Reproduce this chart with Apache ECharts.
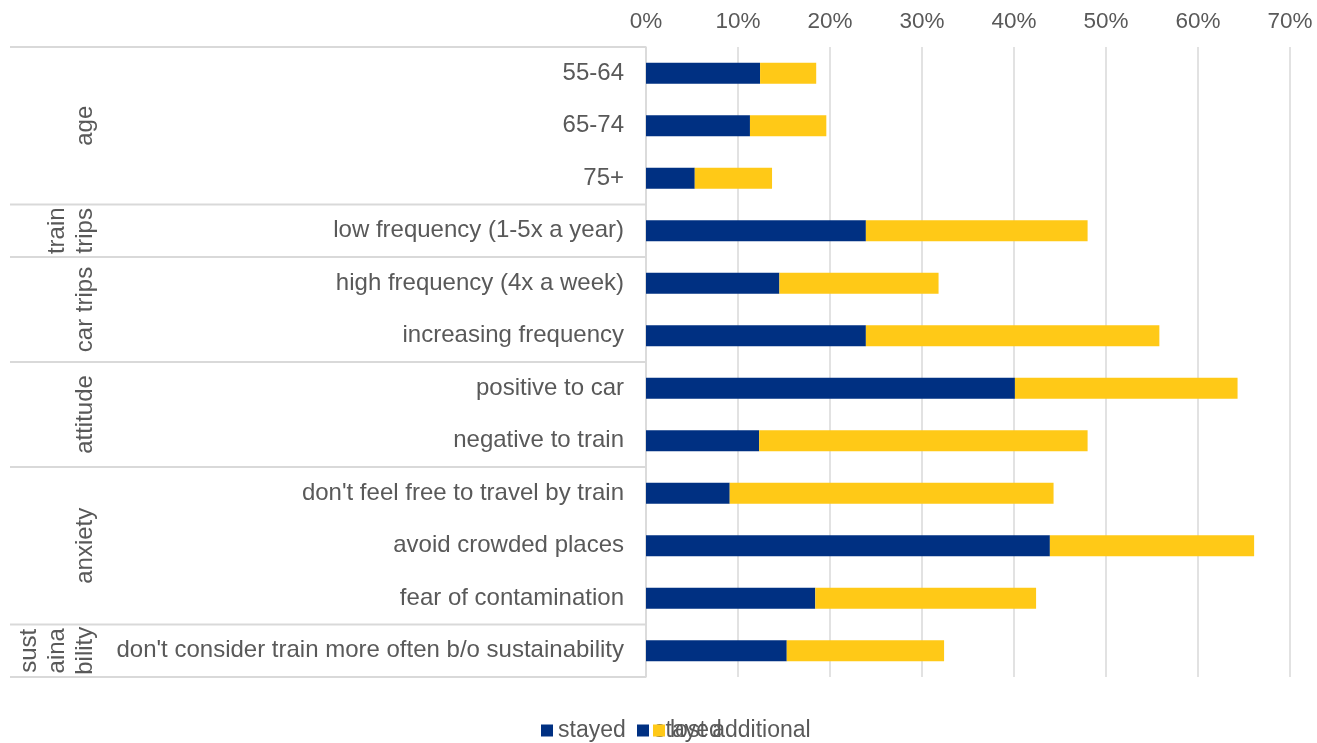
<!DOCTYPE html>
<html>
<head>
<meta charset="utf-8">
<script src="https://cdn.jsdelivr.net/npm/echarts@6/dist/echarts.min.js"></script>
<style>
html,body{margin:0;padding:0;background:#fff;}
#c{width:1317px;height:743px;}
</style>
</head>
<body>
<div id="c"></div>
<script>
const categories = ['55-64','65-74','75+','low frequency (1-5x a year)','high frequency (4x a week)','increasing frequency','positive to car','negative to train',"don't feel free to travel by train",'avoid crowded places','fear of contamination',"don't consider train more often b/o sustainability"];
const stayed = [12.4, 11.3, 5.3, 23.9, 14.5, 23.9, 40.1, 12.3, 9.1, 43.9, 18.4, 15.3];
const lostAdditional = [6.1, 8.3, 8.4, 24.1, 17.3, 31.9, 24.2, 35.7, 35.2, 22.2, 24.0, 17.1];
const groupNames = ['age', 'train\ntrips', 'car trips', 'attitude', 'anxiety', 'sust\naina\nbility'];
const groupStart = [0, 3, 4, 6, 8, 11];
const groupEnd = [2, 3, 5, 7, 10, 11];
const xTicks = [0, 10, 20, 30, 40, 50, 60, 70];

const FONT = '"Liberation Sans", Arial, sans-serif';
const TXT = '#595959';
const GRID = '#d9d9d9';
const NAVY = '#003082';
const YELLOW = '#FFC917';

const chart = echarts.init(document.getElementById('c'));
const legendCommon = {
  top: 714, itemWidth: 12, itemHeight: 12, icon: 'rect', itemGap: 10,
  textStyle: {fontFamily: FONT, fontSize: 23, color: TXT}
};
chart.setOption({
  animation: false,
  grid: {left: 646, right: 27, top: 47, bottom: 66, containLabel: false},
  xAxis: {
    type: 'value', position: 'top', min: xTicks[0], max: xTicks[xTicks.length-1], interval: 10,
    axisLabel: {formatter: '{value}%', fontFamily: FONT, fontSize: 22.5, color: TXT, margin: 14},
    axisLine: {show: false}, axisTick: {show: false},
    splitLine: {show: true, lineStyle: {color: GRID, width: 1.5}}
  },
  yAxis: {
    type: 'category', inverse: true, data: categories,
    axisLabel: {fontFamily: FONT, fontSize: 24, color: TXT, margin: 22, padding: [7, 0, 0, 0]},
    axisLine: {show: true, lineStyle: {color: GRID, width: 1.5}},
    axisTick: {show: false}
  },
  legend: [
    Object.assign({left: 536, data: ['stayed']}, legendCommon),
    Object.assign({left: 632, data: ['stayed']}, legendCommon),
    Object.assign({left: 648, data: ['lost additional']}, legendCommon)
  ],
  series: [
    {name: 'stayed', type: 'bar', stack: 't', barWidth: 21, data: stayed, itemStyle: {color: NAVY}},
    {name: 'lost additional', type: 'bar', stack: 't', barWidth: 21, data: lostAdditional, itemStyle: {color: YELLOW}}
  ]
});

function drawGroups() {
  const y0 = chart.convertToPixel({yAxisIndex: 0}, 0);
  const y1 = chart.convertToPixel({yAxisIndex: 0}, 1);
  const band = y1 - y0;
  const axisX = chart.convertToPixel({xAxisIndex: 0}, 0);
  const graphics = [];
  const bounds = new Set();
  for (let g = 0; g < groupNames.length; g++) {
    const top = chart.convertToPixel({yAxisIndex: 0}, groupStart[g]) - band / 2;
    const bot = chart.convertToPixel({yAxisIndex: 0}, groupEnd[g]) + band / 2;
    bounds.add(Math.round(top * 10) / 10);
    bounds.add(Math.round(bot * 10) / 10);
    graphics.push({
      type: 'text', x: 99, y: (top + bot) / 2, rotation: Math.PI / 2,
      style: {text: groupNames[g], fontFamily: FONT, fontSize: 24, fill: TXT,
        align: 'center', verticalAlign: 'bottom', lineHeight: 28}
    });
  }
  bounds.forEach(function (yy) {
    graphics.push({type: 'line', shape: {x1: 10, y1: yy, x2: axisX, y2: yy},
      style: {stroke: GRID, lineWidth: 2}});
  });
  chart.setOption({graphic: graphics});
}
drawGroups();
</script>
</body>
</html>
